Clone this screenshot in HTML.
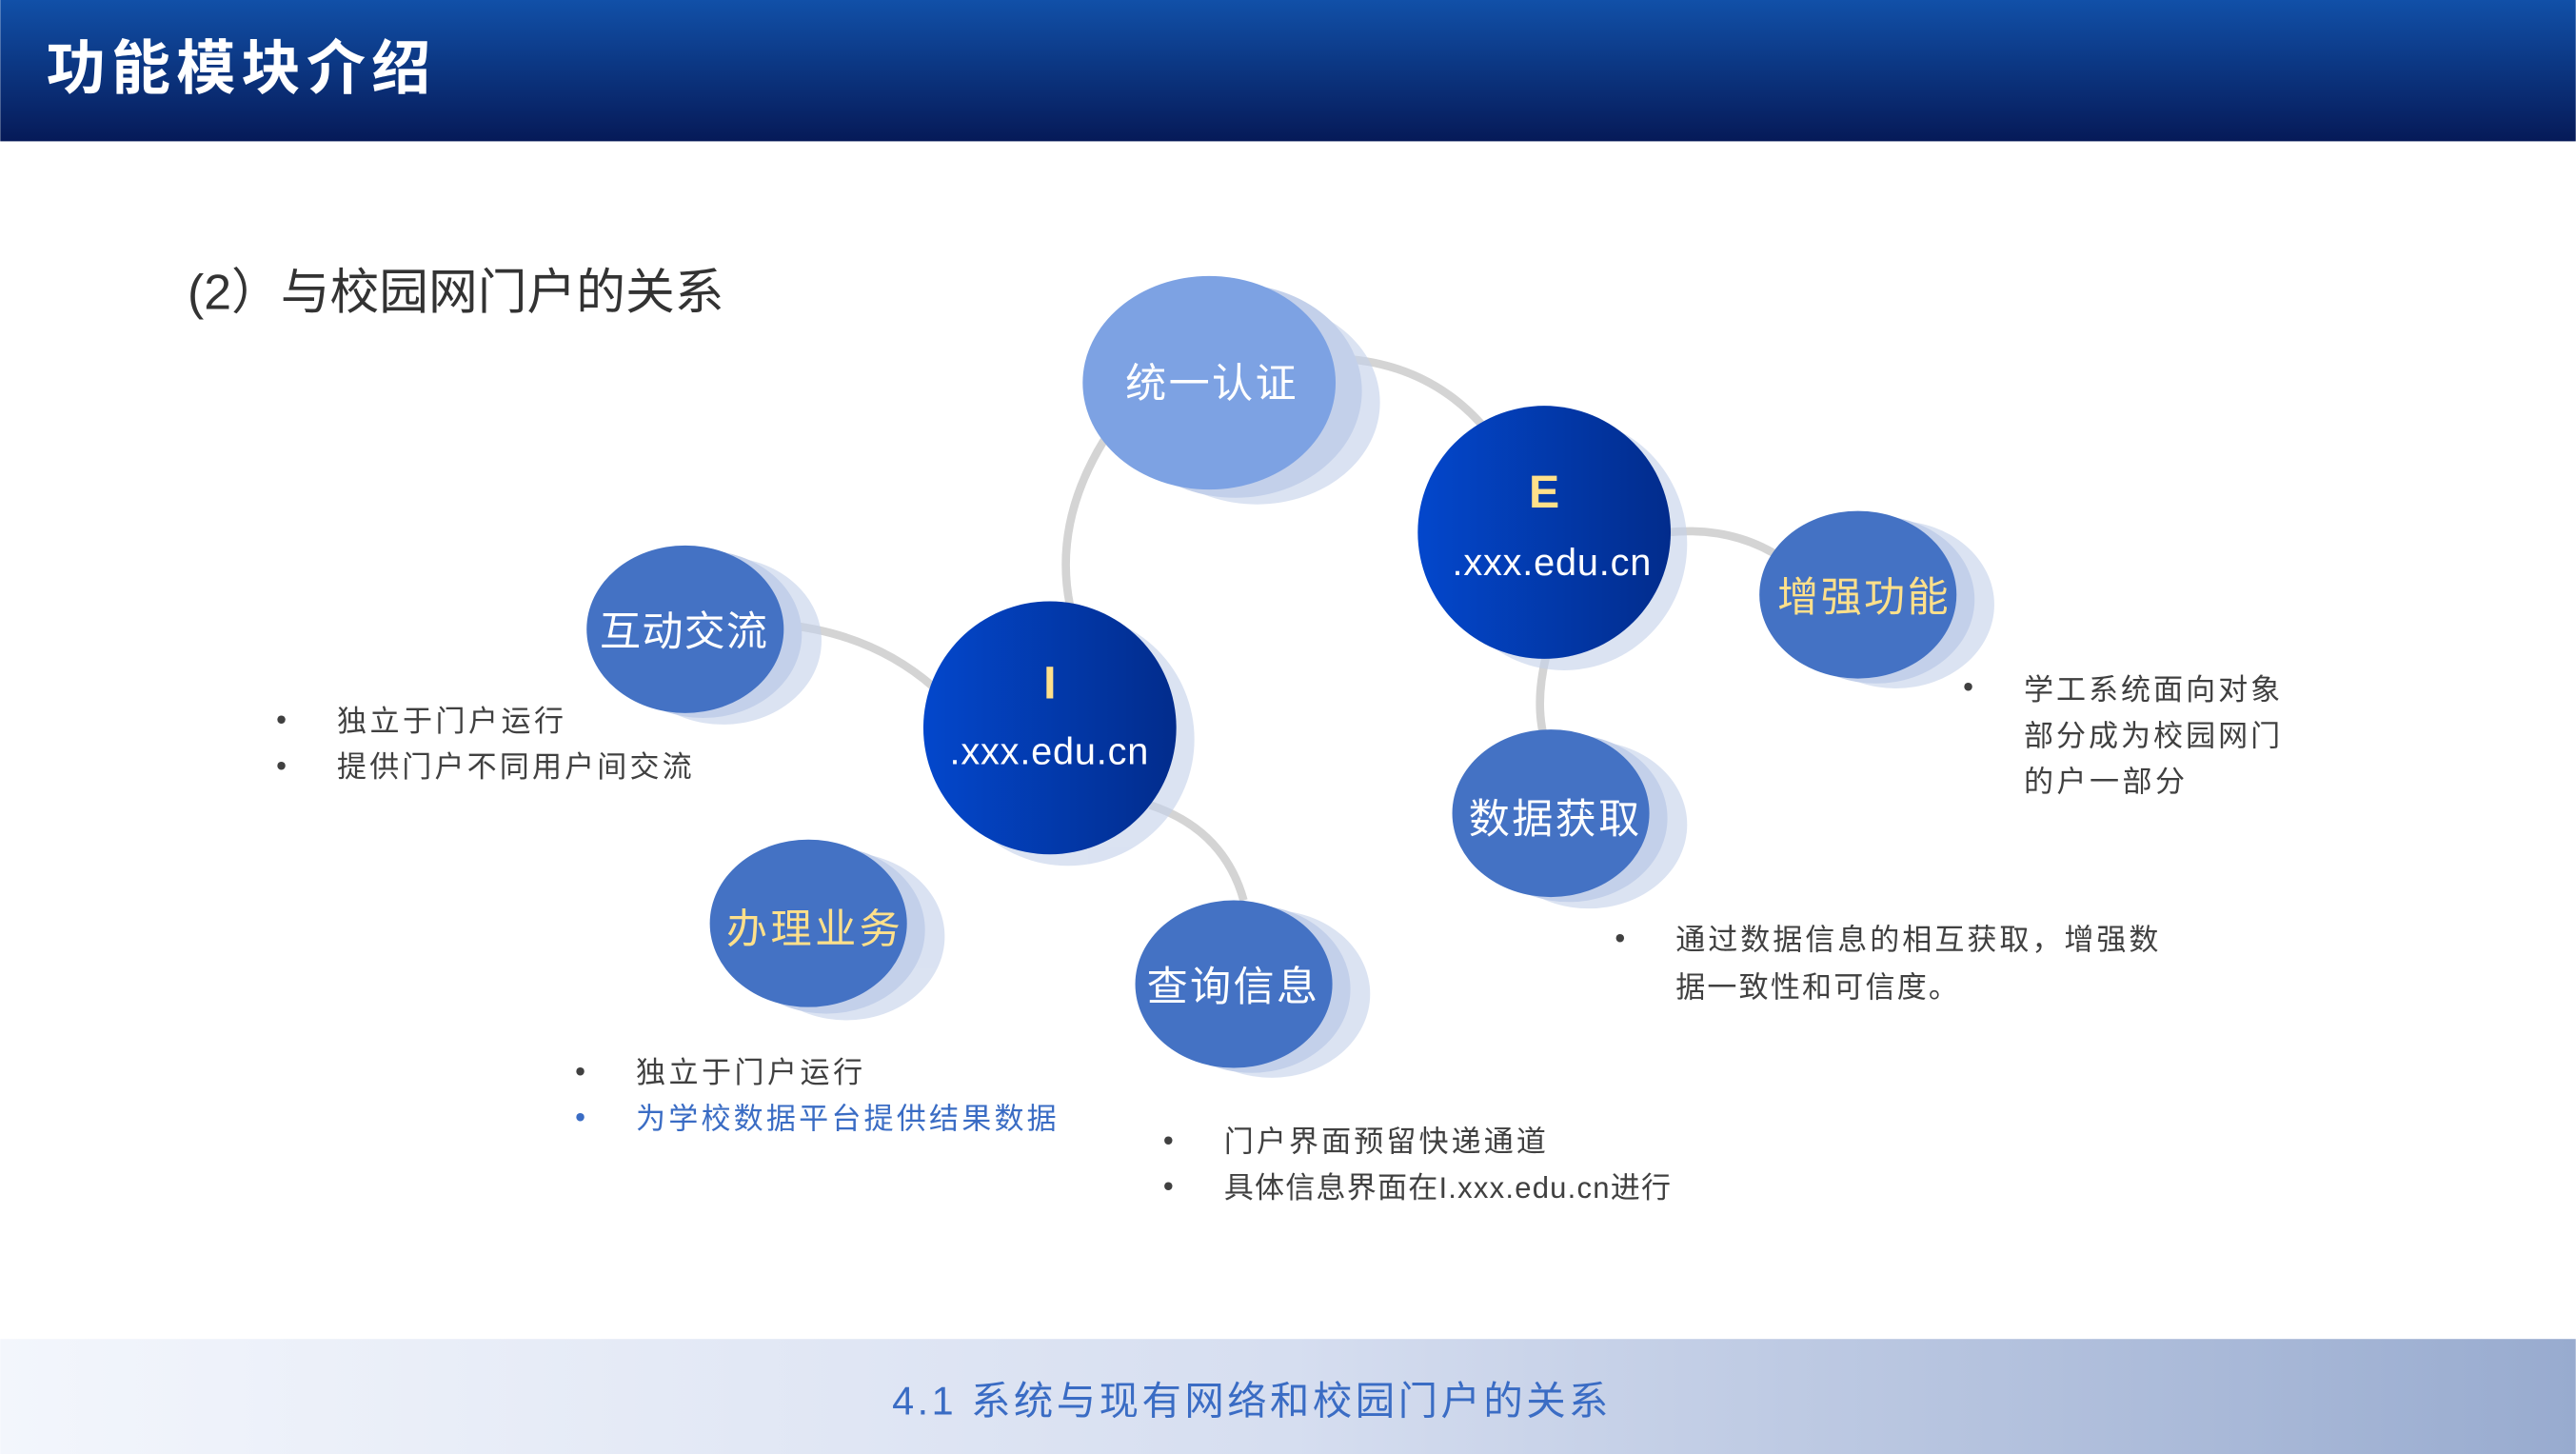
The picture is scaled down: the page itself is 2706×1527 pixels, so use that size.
<!DOCTYPE html>
<html><head><meta charset="utf-8"><style>
html,body{margin:0;padding:0;background:#fff;}
svg{display:block;}
text{font-family:"Liberation Sans","Noto Sans CJK SC",sans-serif;}
</style></head><body>
<svg width="2706" height="1527" viewBox="0 0 1568 885" xmlns="http://www.w3.org/2000/svg">
<defs>
<linearGradient id="hd" x1="0" y1="0" x2="0" y2="1"><stop offset="0" stop-color="#1150a8"/><stop offset="1" stop-color="#061a58"/></linearGradient>
<linearGradient id="ft" x1="0" y1="0" x2="1" y2="0"><stop offset="0" stop-color="#f3f6fc"/><stop offset="0.5" stop-color="#d6def0"/><stop offset="1" stop-color="#98abcf"/></linearGradient>
<linearGradient id="dk" x1="0" y1="0" x2="1" y2="0"><stop offset="0" stop-color="#0347cc"/><stop offset="1" stop-color="#022c8c"/></linearGradient>
</defs>
<rect x="0" y="0" width="1568" height="86" fill="url(#hd)"/>
<text x="28" y="54" font-size="36" font-weight="bold" fill="#fff" textLength="234">功能模块介绍</text>
<rect x="0" y="815" width="1568" height="70" fill="url(#ft)"/>
<text x="543" y="861" font-size="24" fill="#3a6cc4" textLength="436">4.1 系统与现有网络和校园门户的关系</text>
<text x="114" y="188" font-size="30" fill="#333">(2）与校园网门户的关系</text>

<g fill="none" stroke="#d4d4d4" stroke-width="5">
<path d="M672 268 Q640 320 652 372"/>
<path d="M812 218 Q870 220 905 262"/>
<path d="M1015 324 Q1055 320 1085 340"/>
<path d="M941 400 Q935 425 939 445"/>
<path d="M475 380 Q530 385 568 418"/>
<path d="M700 490 Q745 505 757 548"/>
</g>

<g fill="#c3d0ea" opacity="0.6">
<ellipse cx="765" cy="245" rx="75" ry="62"/>
<ellipse cx="952" cy="331" rx="75" ry="77"/>
<ellipse cx="650" cy="450" rx="77" ry="77"/>
<ellipse cx="440" cy="390" rx="60" ry="51"/>
<ellipse cx="515" cy="570" rx="60" ry="51"/>
<ellipse cx="774" cy="605" rx="60" ry="51"/>
<ellipse cx="967" cy="502" rx="60" ry="51"/>
<ellipse cx="1154" cy="368" rx="60" ry="51"/>
</g>
<g fill="#c3d0ea">
<ellipse cx="752" cy="238" rx="77" ry="65"/>
<ellipse cx="428" cy="386" rx="60" ry="51"/>
<ellipse cx="503" cy="566" rx="60" ry="51"/>
<ellipse cx="762" cy="602" rx="60" ry="51"/>
<ellipse cx="955" cy="498" rx="60" ry="51"/>
<ellipse cx="1142" cy="365" rx="60" ry="51"/>
</g>

<ellipse cx="736" cy="233" rx="77" ry="65" fill="#7da2e3"/>
<ellipse cx="940" cy="324" rx="77" ry="77" fill="url(#dk)"/>
<ellipse cx="639" cy="443" rx="77" ry="77" fill="url(#dk)"/>
<g fill="#4472c4">
<ellipse cx="417" cy="383" rx="60" ry="51"/>
<ellipse cx="492" cy="562" rx="60" ry="51"/>
<ellipse cx="751" cy="599" rx="60" ry="51"/>
<ellipse cx="944" cy="495" rx="60" ry="51"/>
<ellipse cx="1131" cy="362" rx="60" ry="51"/>
</g>

<g font-size="25" fill="#fff">
<text x="685" y="242" textLength="104">统一认证</text>
<text x="365" y="393" textLength="102">互动交流</text>
<text x="698" y="609" textLength="104">查询信息</text>
<text x="894" y="507" textLength="104">数据获取</text>
<text x="442" y="574" fill="#ffe08a" textLength="106">办理业务</text>
<text x="1082" y="372" fill="#ffe08a" textLength="104">增强功能</text>
<text x="940" y="309" font-size="28" font-weight="bold" fill="#ffe08a" text-anchor="middle">E</text>
<text x="884" y="350" font-size="23" textLength="121">.xxx.edu.cn</text>
<text x="639" y="425" font-size="28" font-weight="bold" fill="#ffe08a" text-anchor="middle">I</text>
<text x="578" y="465" font-size="23" textLength="121">.xxx.edu.cn</text>
</g>

<g font-size="18" fill="#404040">
<text x="168" y="444">•</text><text x="205" y="445" textLength="138">独立于门户运行</text>
<text x="168" y="472">•</text><text x="205" y="473" textLength="216">提供门户不同用户间交流</text>
<text x="350" y="658">•</text><text x="387" y="659" textLength="138">独立于门户运行</text>
<text x="350" y="686" fill="#3a6cc4">•</text><text x="387" y="687" fill="#3a6cc4" textLength="256">为学校数据平台提供结果数据</text>
<text x="708" y="700">•</text><text x="745" y="701" textLength="196">门户界面预留快递通道</text>
<text x="708" y="728">•</text><text x="745" y="729" textLength="272">具体信息界面在I.xxx.edu.cn进行</text>
<text x="983" y="577">•</text><text x="1020" y="578" textLength="294">通过数据信息的相互获取，增强数</text>
<text x="1020" y="607" textLength="172">据一致性和可信度。</text>
<text x="1195" y="424">•</text><text x="1232" y="426" textLength="156">学工系统面向对象</text>
<text x="1232" y="454" textLength="156">部分成为校园网门</text>
<text x="1232" y="482" textLength="98">的户一部分</text>
</g>
</svg>
</body></html>
